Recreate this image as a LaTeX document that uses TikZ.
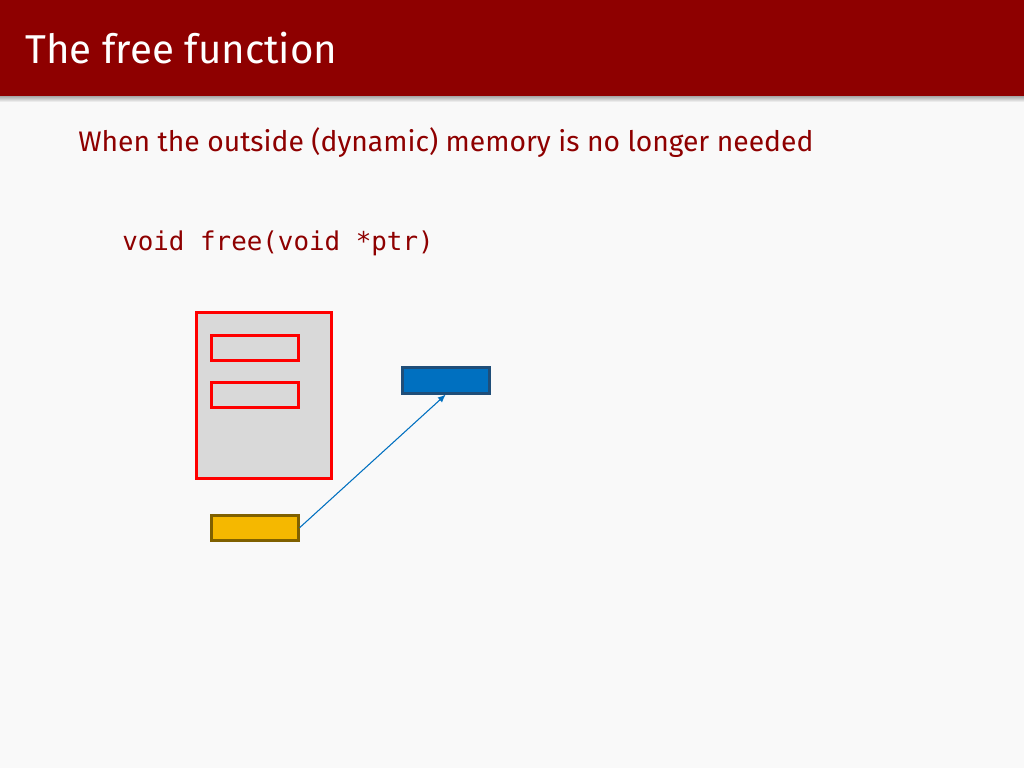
\documentclass[tikz,border=0pt]{standalone}
\usepackage{fontspec}
\setmainfont{Fira Sans}
\setmonofont{DejaVu Sans Mono}
\usetikzlibrary{positioning,arrows.meta}
\definecolor{barred}{HTML}{8E0000}
\definecolor{pagebg}{HTML}{F9F9F9}
\definecolor{cellgray}{HTML}{D9D9D9}
\definecolor{heapblue}{HTML}{0070C0}
\definecolor{heapedge}{HTML}{1F4E79}
\definecolor{ptryellow}{HTML}{F5B800}
\definecolor{ptredge}{HTML}{7F6000}
\tikzset{
  cell/.style={draw=red, fill=cellgray, line width=1.9pt, minimum width=65.25pt, minimum height=18.75pt, inner sep=0pt, anchor=north west},
}

\begin{document}
\begin{tikzpicture}[x=0.75pt,y=-0.75pt]
\useasboundingbox (0,0) rectangle (1024,768);
\fill[pagebg] (0,0) rectangle (1024,768);
% title bar
\shade[top color=black!35, bottom color=pagebg] (0,96) rectangle (1024,102);
\fill[barred] (0,0) rectangle (1024,96);
\node[anchor=base west, text=white, inner sep=0pt, font=\fontsize{30.2}{36}\selectfont] (title) at (25,63) {The free function};
\node[anchor=base west, text=barred, inner sep=0pt, font=\fontsize{21.2}{26}\selectfont] (intro) at (78,151) {When the outside (dynamic) memory is no longer needed};
\node[anchor=base west, text=barred, inner sep=0pt, font=\ttfamily\fontsize{19.4}{23}\selectfont] (proto) at (122,250) {void free(void *ptr)};
% stack frame
\node[cell, minimum width=101.25pt, minimum height=124.5pt] (frame) at (195,311) {};
\node[cell] (varA) at (210,334) {};
\node[cell] (varB) at (210,381) {};
% heap block and pointer
\node[cell, draw=heapedge, fill=heapblue, minimum height=19.5pt] (heap) at (401,366) {};
\node[cell, draw=ptredge, fill=ptryellow] (ptr) at (210,514) {};
\draw[heapblue, line width=0.8pt, -{Latex[length=6pt,width=5pt]}] (ptr.east) -- (heap.south);
\end{tikzpicture}
\end{document}
